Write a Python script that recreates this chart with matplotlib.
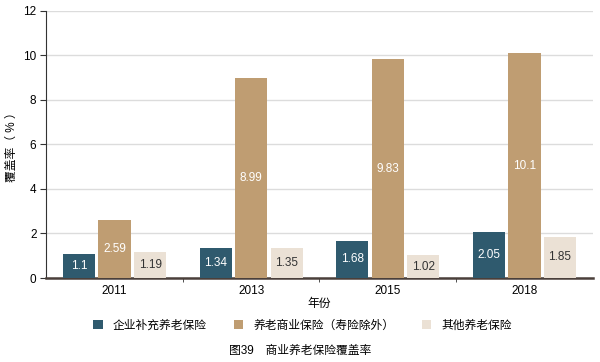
import matplotlib
matplotlib.use('Agg')
import matplotlib.pyplot as plt
import numpy as np

plt.rcParams['font.family'] = ['Liberation Sans', 'Noto Sans CJK SC', 'DejaVu Sans']

years = ['2011', '2013', '2015', '2018']
enterprise = [1.1, 1.34, 1.68, 2.05]
commercial = [2.59, 8.99, 9.83, 10.1]
other = [1.19, 1.35, 1.02, 1.85]
series_names = ['企业补充养老保险', '养老商业保险（寿险除外）', '其他养老保险']
colors = ['#2f5a6e', '#bf9d72', '#ebe1d5']
text_colors = ['white', 'white', '#333333']

fig = plt.figure(figsize=(6, 3.62), dpi=100)
ax = fig.add_axes([0.077, 0.232, 0.911, 0.738])

x = np.arange(len(years))
w = 0.235
offsets = [-0.26, 0.0, 0.26]
handles = []
for vals, off, c, tc, name in zip([enterprise, commercial, other], offsets, colors, text_colors, series_names):
    bars = ax.bar(x + off, vals, width=w, color=c, label=name, zorder=3)
    handles.append(bars)
    for b, v in zip(bars, vals):
        ax.text(b.get_x() + b.get_width() / 2, v / 2, f'{v:g}', ha='center', va='center',
                color=tc, fontsize=8.5, zorder=4)

ax.set_xlim(-0.5, 3.5)
ax.set_ylim(0, 12)
ax.set_yticks(range(0, 13, 2))
ax.yaxis.grid(True, color='#dcdcdc', linewidth=1, zorder=0)
ax.set_axisbelow(True)

ax.set_xticks(x)
ax.set_xticklabels(years, fontsize=8.5)
ax.set_xticks([0.5, 1.5, 2.5], minor=True)
ax.tick_params(axis='x', which='major', length=0, pad=5)
ax.tick_params(axis='x', which='minor', length=3, direction='out', color='#333333')
ax.tick_params(axis='y', labelsize=8.5, length=4, color='#333333', pad=3)

for s in ['top', 'right']:
    ax.spines[s].set_visible(False)
ax.spines['left'].set_color('#333333')
ax.spines['left'].set_linewidth(0.8)
ax.spines['bottom'].set_color('#4a3f3a')
ax.spines['bottom'].set_linewidth(1.8)

ax.set_xlabel('年份', fontsize=8.5, labelpad=1)
ax.set_ylabel('覆盖率（ % ）', fontsize=8.5)
ax.yaxis.set_label_coords(-0.052, 0.5)

fig.legend(handles=handles, labels=series_names, loc='center', bbox_to_anchor=(0.504, 0.1),
           ncol=3, frameon=False, fontsize=8.5, handlelength=0.8, handleheight=0.8,
           columnspacing=2.3, handletextpad=0.85)
fig.text(0.5, 0.03, '图39　商业养老保险覆盖率', ha='center', va='center', fontsize=8.5)

fig.savefig('out.png', dpi=100)
